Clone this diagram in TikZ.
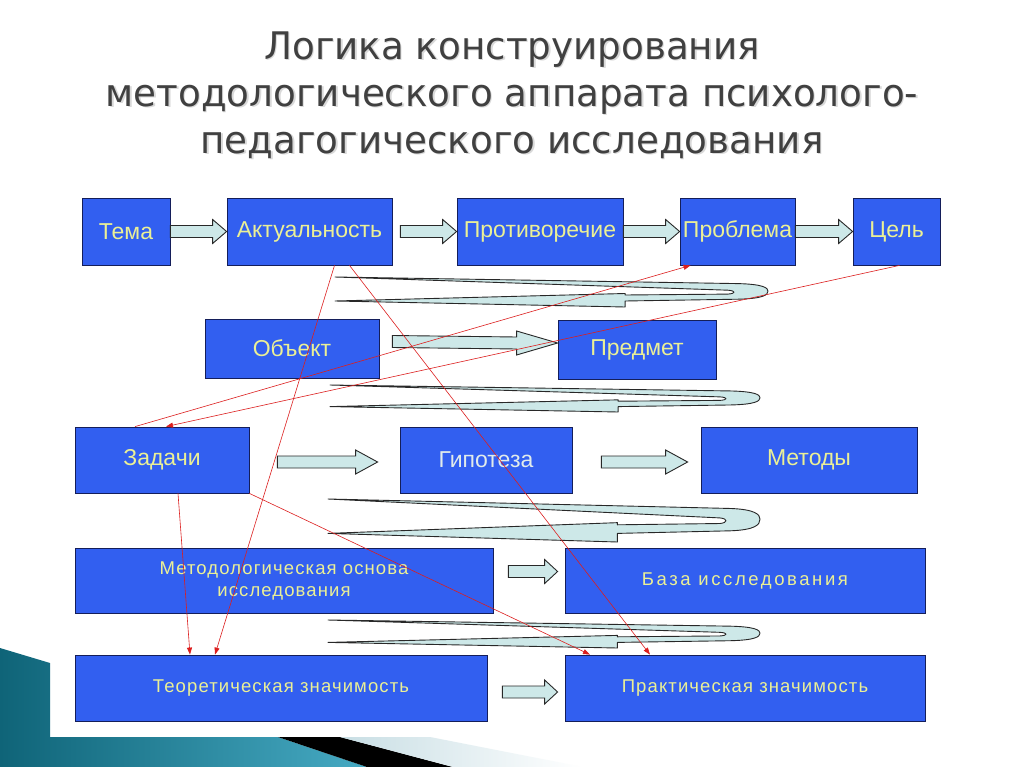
\documentclass[tikz,border=0pt]{standalone}
\usepackage{fontspec}
\setmainfont{Liberation Sans}
\newfontfamily\boxfont{Liberation Sans}
\newfontfamily\spacedfont[LetterSpace=6]{Liberation Sans}
\newfontfamily\widerfont[LetterSpace=14]{Liberation Sans}
\newfontfamily\titlefont[FakeStretch=0.98]{DejaVu Sans}
\usetikzlibrary{arrows.meta}
\usetikzlibrary{calc}

\definecolor{boxblue}{RGB}{50,95,240}
\definecolor{boxline}{RGB}{20,30,90}
\definecolor{boxtext}{RGB}{235,240,150}
\definecolor{arrfill}{RGB}{205,232,232}
\definecolor{arrline}{RGB}{40,40,40}
\definecolor{linkred}{RGB}{220,30,30}
\definecolor{titlegrey}{RGB}{64,64,64}
\definecolor{tealdark}{RGB}{15,100,120}
\definecolor{teallight}{RGB}{70,170,195}

\tikzset{
  box/.style={shape=rectangle,draw=boxline,fill=boxblue,line width=0.8pt,text=boxtext,
    font=\boxfont\fontsize{23}{26}\selectfont,align=center,inner sep=0pt},
  widebox/.style={box,font=\spacedfont\fontsize{18.5}{22}\selectfont},
  barrowstyle/.style={draw=arrline,fill=arrfill,line width=0.9pt,line join=miter},
  loopstyle/.style={draw=arrline,fill=arrfill,line width=0.9pt,line join=round},
  link/.style={draw=linkred,line width=0.6pt,-{Triangle[length=7pt,width=5pt]}}
}

\newcommand\barrow[3]{%
  \draw[barrowstyle] ($(#1)+(0,6)$) -- ($(#2)+(-#3,6)$) -- ($(#2)+(-#3,12)$) -- (#2)
    -- ($(#2)+(-#3,-12)$) -- ($(#2)+(-#3,-6)$) -- ($(#1)+(0,-6)$) -- cycle;}

\newcommand\uloop[4]{%
  \pgfmathsetmacro\lh{#4-#3}
  \pgfmathsetmacro\lx{#1+0.67*(#2-#1)}
  \draw[loopstyle] (#1,#3) -- ({#2-30},{#3+0.22*\lh})
    .. controls ({#2-5},{#3+0.24*\lh}) and (#2,{#3+0.36*\lh}) .. (#2,{#3+0.47*\lh})
    .. controls (#2,{#3+0.6*\lh}) and ({#2-5},{#3+0.72*\lh}) .. ({#2-30},{#3+0.74*\lh})
    -- (\lx,{#3+0.8*\lh}) -- (\lx,{#3+\lh}) -- (#1,{#3+0.8*\lh}) -- (\lx,{#3+0.55*\lh})
    -- (\lx,{#3+0.6*\lh}) -- ({#2-40},{#3+0.57*\lh})
    .. controls ({#2-32},{#3+0.55*\lh}) and ({#2-32},{#3+0.46*\lh}) .. ({#2-40},{#3+0.44*\lh})
    -- cycle;}

\begin{document}
\begin{tikzpicture}[x=1pt,y=-1pt]
\useasboundingbox[fill=white] (0,0) rectangle (1024,767);

\shade[left color=tealdark,right color=teallight] (0,648) -- (50,663) -- (50,737) -- (278,737) -- (367,767) -- (0,767) -- cycle;
\fill[black] (278,737) -- (340,737) -- (453,767) -- (367,767) -- cycle;
\shade[left color={rgb,255:red,200;green,222;blue,228},right color=white] (340,737) -- (430,737) -- (583,767) -- (453,767) -- cycle;

\node[text=black!15,font=\titlefont\fontsize{38}{47}\selectfont,align=center] at (513.5,96.5)
  {Логика конструирования\\методологического аппарата психолого-\\педагогического исследования};
\node[text=titlegrey,font=\titlefont\fontsize{38}{47}\selectfont,align=center] (title) at (512,95)
  {Логика конструирования\\методологического аппарата психолого-\\педагогического исследования};

\node[box,minimum width=88pt,minimum height=67pt] (tema) at (126,231.5) {Тема};
\node[box,minimum width=165pt,minimum height=67pt] (akt) at (309.5,231.5) {Актуальность};
\node[box,minimum width=166pt,minimum height=67pt] (prot) at (540,231.5) {Противоречие};
\node[box,minimum width=115pt,minimum height=67pt] (prob) at (737.5,231.5) {Проблема};
\node[box,minimum width=87pt,minimum height=67pt] (cel) at (896.5,231.5) {Цель};

\node[box,minimum width=174pt,minimum height=59pt] (obj) at (292,348.5) {Объект};
\node[box,minimum width=158pt,minimum height=59pt] (pred) at (637,350) {Предмет};

\node[box,minimum width=174pt,minimum height=66pt] (zad) at (162,460) {Задачи};
\node[box,minimum width=172pt,minimum height=66pt,text={rgb,255:red,225;green,235;blue,235}] (gip) at (486,460) {Гипотеза};
\node[box,minimum width=216pt,minimum height=66pt] (met) at (809,460) {Методы};

\node[widebox,minimum width=418pt,minimum height=65pt] (osn) at (284,580.5) {Методологическая основа\\исследования};
\node[widebox,minimum width=360pt,minimum height=65pt,font=\widerfont\fontsize{18.5}{22}\selectfont] (baza) at (745,580.5) {База исследования};

\node[widebox,minimum width=412pt,minimum height=66pt] (teor) at (281,688) {Теоретическая значимость};
\node[widebox,minimum width=360pt,minimum height=66pt] (prak) at (745,688) {Практическая значимость};

\barrow{tema.east}{akt.west}{14}
\coordinate (akt-out) at ($(akt.east)+(8,0)$);
\barrow{akt-out}{prot.west}{14}
\barrow{prot.east}{prob.west}{14}
\barrow{prob.east}{cel.west}{14}

\coordinate (obj-out) at ($(obj.east)+(13,-7)$);
\coordinate (pred-in) at ($(pred.west)+(0,-7)$);
\barrow{obj-out}{pred-in}{41}

\coordinate (zad-out) at ($(zad.east)+(28,2)$);
\coordinate (gip-in) at ($(gip.west)+(-22,2)$);
\barrow{zad-out}{gip-in}{22}
\coordinate (gip-out) at ($(gip.east)+(29,2)$);
\coordinate (met-in) at ($(met.west)+(-13,2)$);
\barrow{gip-out}{met-in}{22}

\coordinate (osn-out) at ($(osn.east)+(15,-9)$);
\coordinate (baza-in) at ($(baza.west)+(-7,-9)$);
\barrow{osn-out}{baza-in}{13}

\coordinate (teor-out) at ($(teor.east)+(15,4)$);
\coordinate (prak-in) at ($(prak.west)+(-7,4)$);
\barrow{teor-out}{prak-in}{13}

\uloop{335}{768}{277}{307}
\uloop{330}{760}{385}{412}
\uloop{328}{760}{499}{542}
\uloop{328}{760}{620}{648}

\draw[link] ([xshift=25pt]akt.south) -- ([xshift=-66pt]teor.north);
\draw[link] ([xshift=40pt]akt.south) -- ([xshift=-95pt]prak.north);
\draw[link] ([xshift=-27pt]zad.north) -- ([xshift=-47pt]prob.south);
\draw[link] ([xshift=3pt]cel.south) -- ([xshift=4pt]zad.north);
\draw[link] ([xshift=16pt]zad.south) -- ([xshift=-91pt]teor.north);
\draw[link] (zad.south east) -- ([xshift=-155pt]prak.north);
\end{tikzpicture}
\end{document}
